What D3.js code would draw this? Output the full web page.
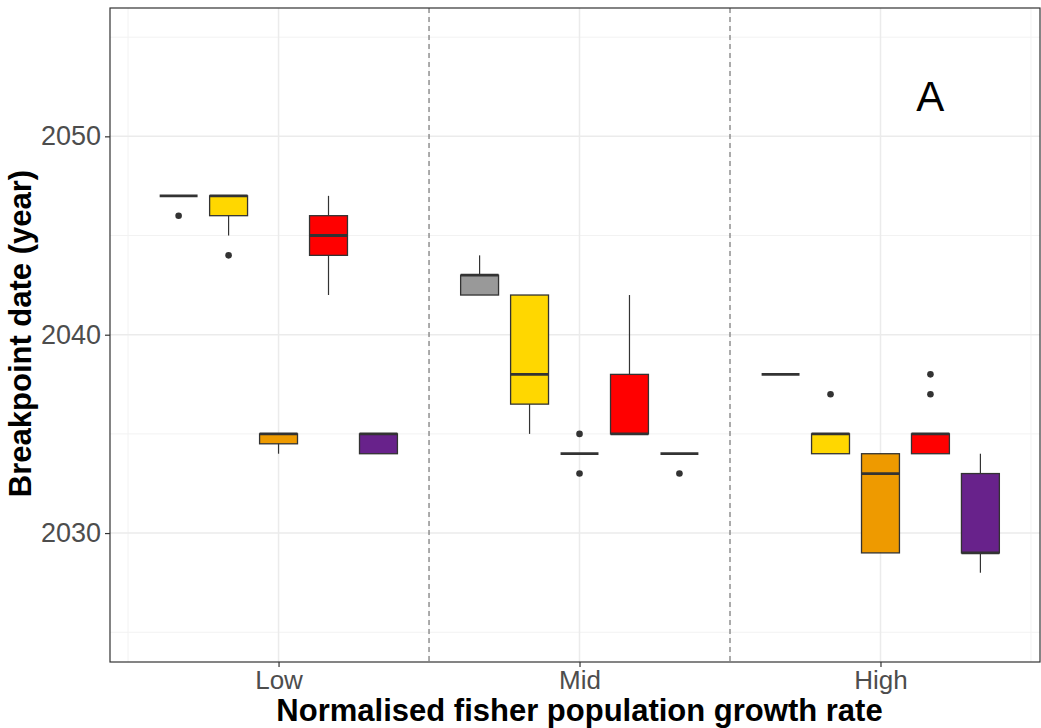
<!DOCTYPE html>
<html>
<meta charset="utf-8">
<style>
  body { margin: 0; background: #fff; }
  svg { display: block; font-family: "Liberation Sans", Arial, sans-serif; }
</style>
<body>
<svg width="1041" height="728"></svg>
<script src="https://d3js.org/d3.v7.min.js"></script>
<script>

// categories on x and the five fill groups inside each
var categories = ["Low", "Mid", "High"];
var groupFills = ["#999999", "#FFD700", "#EE9A00", "#FF0000", "#68228B"];

// box stats per group: [lower whisker, q1, median, q3, upper whisker]
var lowBoxes = [
  [2047, 2047, 2047, 2047, 2047],
  [2045, 2046, 2047, 2047, 2047],
  [2034, 2034.5, 2035, 2035, 2035],
  [2042, 2044, 2045, 2046, 2047],
  [2034, 2034, 2035, 2035, 2035]
];
var midBoxes = [
  [2042, 2042, 2043, 2043, 2044],
  [2035, 2036.5, 2038, 2042, 2042],
  [2034, 2034, 2034, 2034, 2034],
  [2035, 2035, 2035, 2038, 2042],
  [2034, 2034, 2034, 2034, 2034]
];
var highBoxes = [
  [2038, 2038, 2038, 2038, 2038],
  [2034, 2034, 2035, 2035, 2035],
  [2029, 2029, 2033, 2034, 2034],
  [2034, 2034, 2035, 2035, 2035],
  [2028, 2029, 2029, 2033, 2034]
];
var lowOutliers = [[2046], [2044], [], [], []];
var midOutliers = [[], [], [2035, 2033], [], [2033]];
var highOutliers = [[], [2037], [], [2037, 2038], []];

var yTicks = [2030, 2040, 2050];
var yMinor = [2025, 2035, 2045, 2055];

var margin = {top: 8, right: 1, bottom: 66, left: 110},
    width = 1041 - margin.left - margin.right,
    height = 728 - margin.top - margin.bottom;

var svg = d3.select("svg");
var g = svg.append("g").attr("transform", "translate(" + margin.left + "," + margin.top + ")");

var xScale = d3.scaleLinear().domain([0.44, 3.53]).range([0, width]);
var yScale = d3.scaleLinear().domain([2023.5, 2056.47]).range([height, 0]);

var dodge = 0.166, boxW = 0.126;

// grid
g.selectAll(".ymin").data(yMinor).enter().append("line")
  .attr("x1", 0).attr("x2", width)
  .attr("y1", function(d) { return yScale(d); }).attr("y2", function(d) { return yScale(d); })
  .attr("stroke", "#F2F2F2").attr("stroke-width", 1);
g.selectAll(".xmin").data([0.5, 1.5, 2.5, 3.5]).enter().append("line")
  .attr("x1", function(d) { return xScale(d); }).attr("x2", function(d) { return xScale(d); })
  .attr("y1", 0).attr("y2", height)
  .attr("stroke", "#F2F2F2").attr("stroke-width", 1);
g.selectAll(".ymaj").data(yTicks).enter().append("line")
  .attr("x1", 0).attr("x2", width)
  .attr("y1", function(d) { return yScale(d); }).attr("y2", function(d) { return yScale(d); })
  .attr("stroke", "#EBEBEB").attr("stroke-width", 1.5);
g.selectAll(".xmaj").data([1, 2, 3]).enter().append("line")
  .attr("x1", function(d) { return xScale(d); }).attr("x2", function(d) { return xScale(d); })
  .attr("y1", 0).attr("y2", height)
  .attr("stroke", "#EBEBEB").attr("stroke-width", 1.5);

// dashed separators
g.selectAll(".sep").data([1.5, 2.5]).enter().append("line")
  .attr("x1", function(d) { return xScale(d); }).attr("x2", function(d) { return xScale(d); })
  .attr("y1", 0).attr("y2", height)
  .attr("stroke", "#777").attr("stroke-width", 1.2).attr("stroke-dasharray", "5,4");

// boxes
var allBoxes = [lowBoxes, midBoxes, highBoxes];
var allOut = [lowOutliers, midOutliers, highOutliers];
var boxes = [];
allBoxes.forEach(function(cat, ci) {
  cat.forEach(function(s, gi) {
    boxes.push({x: ci + 1 + (gi - 2) * dodge, s: s, fill: groupFills[gi], out: allOut[ci][gi]});
  });
});

var bx = g.selectAll(".box").data(boxes).enter().append("g");
bx.append("line")
  .attr("x1", function(d) { return xScale(d.x); }).attr("x2", function(d) { return xScale(d.x); })
  .attr("y1", function(d) { return yScale(d.s[0]); }).attr("y2", function(d) { return yScale(d.s[4]); })
  .attr("stroke", "#333").attr("stroke-width", 1.2);
bx.append("rect")
  .attr("x", function(d) { return xScale(d.x - boxW / 2); })
  .attr("width", xScale(boxW) - xScale(0))
  .attr("y", function(d) { return yScale(d.s[3]); })
  .attr("height", function(d) { return yScale(d.s[1]) - yScale(d.s[3]); })
  .attr("fill", function(d) { return d.fill; })
  .attr("stroke", "#333").attr("stroke-width", 1.3);
bx.append("line")
  .attr("x1", function(d) { return xScale(d.x - boxW / 2); })
  .attr("x2", function(d) { return xScale(d.x + boxW / 2); })
  .attr("y1", function(d) { return yScale(d.s[2]); }).attr("y2", function(d) { return yScale(d.s[2]); })
  .attr("stroke", "#333").attr("stroke-width", 2.8);
bx.each(function(d) {
  d3.select(this).selectAll("circle").data(d.out).enter().append("circle")
    .attr("cx", xScale(d.x)).attr("cy", function(v) { return yScale(v); })
    .attr("r", 3.3).attr("fill", "#333");
});

// border
g.append("rect").attr("width", width).attr("height", height)
  .attr("fill", "none").attr("stroke", "#333").attr("stroke-width", 1.2);

// axes
var yAxis = d3.axisLeft(yScale).tickValues(yTicks).tickFormat(d3.format("d")).tickSize(5).tickPadding(4);
var xAxis = d3.axisBottom(xScale).tickValues([1, 2, 3])
  .tickFormat(function(d) { return categories[d - 1]; }).tickSize(5).tickPadding(4);

var ya = g.append("g").call(yAxis);
var xa = g.append("g").attr("transform", "translate(0," + height + ")").call(xAxis);
[ya, xa].forEach(function(a) {
  a.select(".domain").remove();
  a.selectAll(".tick line").attr("stroke", "#333").attr("stroke-width", 1.2);
  a.selectAll(".tick text").attr("fill", "#4D4D4D")
    .style("font-family", "'Liberation Sans', Arial, sans-serif");
});
ya.selectAll(".tick text").style("font-size", "27px");
xa.selectAll(".tick text").style("font-size", "26px");

// labels
svg.append("text")
  .attr("transform", "translate(31,333.5) rotate(-90)")
  .attr("text-anchor", "middle")
  .style("font-size", "31px").style("font-weight", "bold").attr("fill", "#000")
  .text("Breakpoint date (year)");
svg.append("text")
  .attr("x", margin.left + xScale(2)).attr("y", 721)
  .attr("text-anchor", "middle")
  .style("font-size", "31px").style("font-weight", "bold").attr("fill", "#000")
  .text("Normalised fisher population growth rate");
g.append("text")
  .attr("x", xScale(3.165)).attr("y", yScale(2051.27))
  .attr("text-anchor", "middle")
  .style("font-size", "42px").attr("fill", "#000")
  .text("A");

</script>
</body>
</html>
